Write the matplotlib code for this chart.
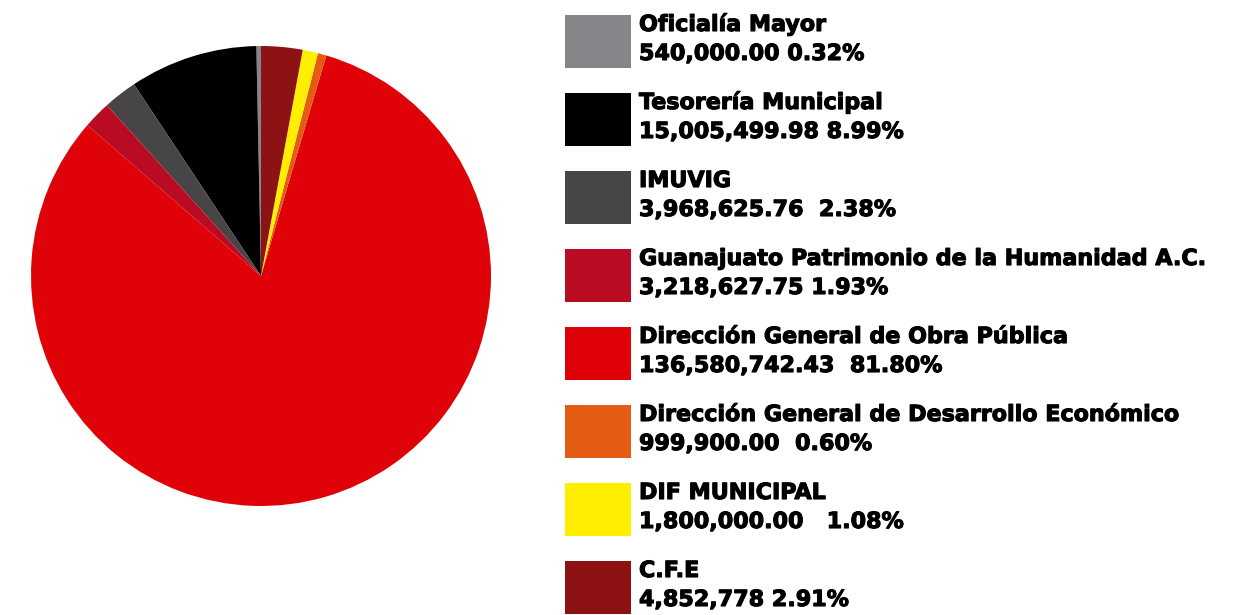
import matplotlib as mpl
mpl.use('Agg')
from matplotlib import pyplot as plt
from matplotlib.patches import Rectangle
import matplotlib.patheffects as pe

# -- datos --
dependencias = [
    "Oficialía Mayor",
    "Tesorería Municipal",
    "IMUVIG",
    "Guanajuato Patrimonio de la Humanidad A.C.",
    "Dirección General de Obra Pública",
    "Dirección General de Desarrollo Económico",
    "DIF MUNICIPAL",
    "C.F.E",
]
montos = [540000.00, 15005499.98, 3968625.76, 3218627.75,
          136580742.43, 999900.00, 1800000.00, 4852778]
textos_monto = [
    "540,000.00 0.32%",
    "15,005,499.98 8.99%",
    "3,968,625.76  2.38%",
    "3,218,627.75 1.93%",
    "136,580,742.43  81.80%",
    "999,900.00  0.60%",
    "1,800,000.00   1.08%",
    "4,852,778 2.91%",
]
colores = ["#86858a", "#000000", "#474546", "#b90c23",
           "#df0209", "#e45c13", "#ffee00", "#8d1214"]

W, H = 1235, 615


def main():
    plt.rcParams['font.family'] = ['DejaVu Sans']
    fig = plt.figure(figsize=(W / 100, H / 100), dpi=100)

    # -- pastel --
    ax = fig.add_axes([31 / W, (H - 506) / H, 460 / W, 460 / H])
    ax.pie(montos, colors=colores, startangle=90, counterclock=True,
           radius=1.0, wedgeprops={'linewidth': 0})
    ax.set_xlim(-1, 1)
    ax.set_ylim(-1, 1)
    ax.set_aspect('auto')
    ax.axis('off')

    # -- leyenda en coordenadas de pixel --
    lg = fig.add_axes([0, 0, 1, 1])
    lg.set_xlim(0, W)
    lg.set_ylim(H, 0)
    lg.axis('off')
    grueso = [pe.withStroke(linewidth=0.8, foreground='black')]
    for i, (nombre, txt, c) in enumerate(zip(dependencias, textos_monto, colores)):
        top = 15 + 78 * i
        lg.add_patch(Rectangle((565, top), 66, 53, color=c, lw=0))
        lg.text(639, top + 16, nombre, fontsize=16, fontweight='bold',
                va='baseline', ha='left', path_effects=grueso)
        lg.text(639, top + 45, txt, fontsize=16, fontweight='bold',
                va='baseline', ha='left', path_effects=grueso)

    plt.savefig("out.png", dpi=100)


if __name__ == "__main__":
    main()
